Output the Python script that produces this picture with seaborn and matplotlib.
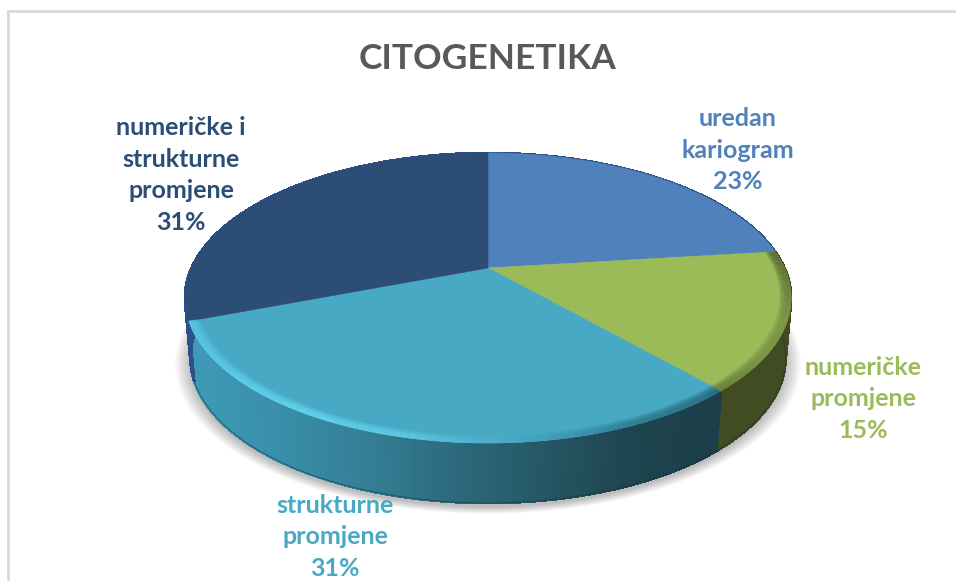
import numpy as np
import seaborn as sns
import matplotlib
matplotlib.use("Agg")
import matplotlib.pyplot as plt
from matplotlib.collections import PolyCollection
from matplotlib.colors import LinearSegmentedColormap
from matplotlib.transforms import Transform

# Data
title = "CITOGENETIKA"
categories = ["uredan\nkariogram", "numeričke\npromjene", "strukturne\npromjene", "numeričke i\nstrukturne\npromjene"]
counts = [3, 2, 4, 4]
colors = ["#4f81bd", "#9bbb59", "#48a9c5", "#2c4d75"]

sns.set_theme(style="white")
plt.rcParams["font.family"] = ["Lato", "DejaVu Sans"]
palette = sns.color_palette(colors)

# pie geometry in pixels
cx, cy = 488, 268
k = 0.207
a, b = 138.8, 296.5
depth = 60
shrink = 0.982


class Perspective(Transform):
    input_dims = 2
    output_dims = 2

    def __init__(self, dy=0, scale=1.0):
        super().__init__()
        self.dy = dy
        self.scale = scale

    def transform_non_affine(self, values):
        pts = np.asarray(values, dtype=float)
        d = 1 + k * pts[:, 1]
        return np.column_stack([cx + self.scale * b * pts[:, 0] / d, cy + self.dy - a * pts[:, 1] / d])


top = Perspective()
bottom = Perspective(depth, shrink)

fig, ax = plt.subplots(figsize=(9.56, 5.81), dpi=100)
fig.subplots_adjust(0, 0, 1, 1)

fractions = np.array(counts) / sum(counts)
edges = np.concatenate([[0], np.cumsum(fractions)])

wedges, _ = ax.pie(counts, colors=palette, startangle=90, counterclock=False, radius=1, frame=False)
ax.set_aspect("auto")
ax.set_xlim(0, 956)
ax.set_ylim(581, 0)
ax.axis("off")
for w, c in zip(wedges, palette):
    w.set_transform(top + ax.transData)
    w.set_edgecolor(c)
    w.set_linewidth(0.4)
    w.set_zorder(5)


def unit(fr):
    ang = np.pi / 2 - 2 * np.pi * np.asarray(fr)
    return np.column_stack([np.cos(ang), np.sin(ang)])


# soft shadow under the pie
ring = unit(np.linspace(0, 1, 240))
for grow in np.linspace(1.0, 1.05, 10):
    pts = bottom.transform(ring * [grow, 1.0 + (grow - 1) * 0.6])
    ax.fill(pts[:, 0], pts[:, 1] + 4, color="black", alpha=0.028, lw=0, zorder=1)

# side wall, shaded along x
wall_maps = [
    LinearSegmentedColormap.from_list("w0", ["#2f5488", "#2f5488"]),
    LinearSegmentedColormap.from_list("w1", ["#3f4b22", "#3f4b22", "#414c23"]),
    LinearSegmentedColormap.from_list("w2", ["#3d9ab6", "#3a8ea9", "#347f96", "#2d6a7d", "#265866", "#1e4550", "#1c3f49"]),
    LinearSegmentedColormap.from_list("w3", ["#2a5288", "#2a5288"]),
]
for i, cmap in enumerate(wall_maps):
    fr = np.linspace(edges[i], edges[i + 1], 160)
    t = top.transform(unit(fr))
    d = bottom.transform(unit(fr))
    polys = [[t[j], t[j + 1], d[j + 1], d[j]] for j in range(len(fr) - 1)]
    shade = np.clip((t[:-1, 0] - 190) / (717 - 190), 0, 1)
    cols = cmap(shade)
    ax.add_collection(PolyCollection(polys, facecolors=cols, edgecolors=cols, linewidths=1.2,
                                     antialiaseds=False, zorder=3))

# dark rim under the wall
fr = np.linspace(edges[1], edges[3], 200)
d = bottom.transform(unit(fr))
ax.plot(d[:, 0], d[:, 1], color="#16323a", lw=0.8, alpha=0.5, zorder=4)

# bevel along the front of the top face
bevels = [
    (2, LinearSegmentedColormap.from_list("b2", ["#57c3df", "#5cc9e4", "#63d2ec", "#5ecbe5", "#48a9c5", "#327f96", "#2b6c80"])),
    (1, LinearSegmentedColormap.from_list("b1", ["#5e7035", "#6b7f3c", "#7d9447", "#7d9447", "#6b7f3c"])),
]
for i, cmap in bevels:
    fr = np.linspace(edges[i], edges[i + 1], 160)
    for inset, alpha in [(0.0, 1.0), (0.007, 0.9), (0.014, 0.7), (0.021, 0.45), (0.028, 0.2)]:
        inner = top.transform(unit(fr) * (1 - inset - 0.007))
        rim = top.transform(unit(fr) * (1 - inset))
        polys = [[rim[j], rim[j + 1], inner[j + 1], inner[j]] for j in range(len(fr) - 1)]
        if i == 2:
            shade = 1 - (fr[:-1] - edges[i]) / (edges[i + 1] - edges[i])
        else:
            shade = (fr[:-1] - edges[i]) / (edges[i + 1] - edges[i])
        cols = cmap(shade)
        cols[:, 3] = alpha
        ax.add_collection(PolyCollection(polys, facecolors=cols, edgecolors=cols, linewidths=0.3, zorder=6))

# labels
ax.text(488, 59, title, ha="center", va="center", fontsize=25.5, fontweight="bold", color="#595959", zorder=10)
label_xy = [(738, 150), (863, 399), (335, 537), (181, 175)]
for name, n, xy, c in zip(categories, fractions, label_xy, palette):
    ax.text(xy[0], xy[1], f"{name}\n{n * 100:.0f}%", ha="center", va="center", fontsize=18,
            fontweight="bold", color=c, linespacing=1.46, zorder=10)

# chart frame, cut off by the screenshot on two sides
ax.plot([8.5, 8.5, 956], [581, 10.5, 10.5], color="#d9d9d9", lw=2, solid_joinstyle="miter", zorder=0)

plt.savefig("out.png", dpi=100)
